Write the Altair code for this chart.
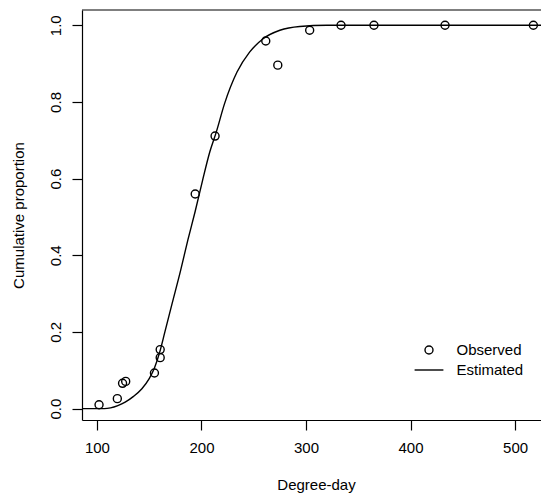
import altair as alt
import pandas as pd

# Observed points
obs_x = [102, 119.5, 124.5, 127.5, 155, 160.5, 160.5, 194, 213, 261.5, 273, 303.5, 333.5, 365, 433, 517.5]
obs_y = [0.01, 0.026, 0.066, 0.071, 0.093, 0.133, 0.154, 0.56, 0.711, 0.959, 0.896, 0.987, 1.0, 1.0, 1.0, 1.0]

# Estimated curve
est_x = [85, 100, 107, 113, 120, 127, 135, 143, 150, 155, 160, 165, 172, 180, 187, 194, 201, 208, 214, 222,
         234, 246, 259, 275, 294, 320, 360, 420, 480, 540]
est_y = [0, 0, 0, 0.002, 0.008, 0.017, 0.032, 0.052, 0.078, 0.106, 0.147, 0.20, 0.275, 0.36, 0.44, 0.515,
         0.595, 0.67, 0.72, 0.795, 0.878, 0.93, 0.965, 0.987, 0.997, 1.0, 1.0, 1.0, 1.0, 1.0]

x_ticks = [100, 200, 300, 400, 500]
y_ticks = [0.0, 0.2, 0.4, 0.6, 0.8, 1.0]

obs = pd.DataFrame({"x": obs_x, "y": obs_y, "series": "Observed"})
est = pd.DataFrame({"x": est_x, "y": est_y, "series": "Estimated"})

W, H = 459, 410
FONT = "Liberation Sans"

xscale = alt.Scale(domain=[85.7, 524.8], nice=False, zero=False)
yscale = alt.Scale(domain=[-0.0297, 1.0399], nice=False, zero=False)

xaxis = alt.Axis(values=x_ticks, title="Degree-day", grid=False, tickSize=10, labelPadding=10,
                 labelFontSize=15, titleFontSize=15, titleFontWeight="normal", titlePadding=22,
                 titleX=234, titleAnchor="start", titleAlign="center",
                 domainColor="black", tickColor="black", labelColor="black", titleColor="black",
                 labelFont=FONT, titleFont=FONT, labelFlush=False)
yaxis = alt.Axis(values=y_ticks, format=".1f", title="Cumulative proportion", grid=False, tickSize=10,
                 labelAngle=270, labelAlign="center", labelBaseline="bottom", labelPadding=9,
                 labelFontSize=15, titleFontSize=15, titleFontWeight="normal", titlePadding=22,
                 domainColor="black", tickColor="black", labelColor="black", titleColor="black",
                 labelFont=FONT, titleFont=FONT, labelFlush=False)

line = alt.Chart(est).mark_line(color="black", strokeWidth=1.4, interpolate="monotone", clip=True).encode(
    x=alt.X("x:Q", scale=xscale, axis=xaxis),
    y=alt.Y("y:Q", scale=yscale, axis=yaxis),
)

points = alt.Chart(obs).mark_point(shape="circle", size=64, filled=False, color="black",
                                   strokeWidth=1.4, opacity=1).encode(
    x=alt.X("x:Q", scale=xscale),
    y=alt.Y("y:Q", scale=yscale),
    shape=alt.Shape("series:N",
                    scale=alt.Scale(domain=["Observed", "Estimated"],
                                    range=["circle", "M-3.6,0L3.6,0"]),
                    legend=alt.Legend(title=None, orient="none", legendX=339.5, legendY=332.5,
                                      symbolSize=64, symbolFillColor="transparent",
                                      symbolStrokeColor="black", symbolStrokeWidth=1.4,
                                      labelFontSize=15, labelFont=FONT, labelColor="black",
                                      labelOffset=20, rowPadding=4, padding=0)),
)

top_border = alt.Chart(pd.DataFrame({"a": [0]})).mark_rule(color="black", strokeWidth=1.2).encode(
    y=alt.value(0), x=alt.value(0), x2=alt.value(W)
)

chart = alt.layer(line, points, top_border).properties(
    width=W, height=H,
    autosize=alt.AutoSizeParams(type="none"),
    padding={"left": 74, "top": 2, "right": 0, "bottom": 77},
).configure_view(stroke=None).configure_axis(domainWidth=1.2, tickWidth=1.2)

chart.save("out.html", embed_options={"renderer": "svg", "actions": False})
